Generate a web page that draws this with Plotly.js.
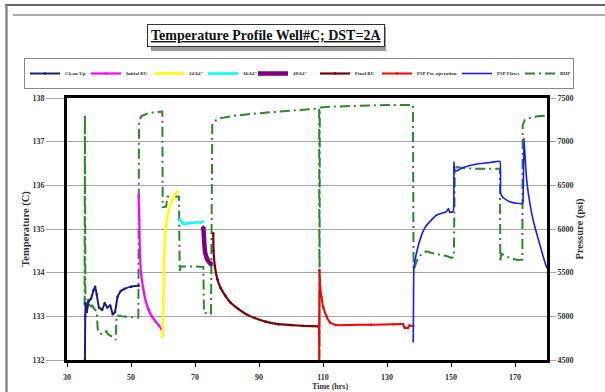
<!DOCTYPE html>
<html><head><meta charset="utf-8">
<script src="https://cdn.plot.ly/plotly-3.0.1.min.js"></script>
<style>html,body{margin:0;padding:0;background:#fff;}#chart{width:605px;height:392px;}</style>
</head><body><div id="chart"></div>
<script>
// ---- data (time in hrs, temperature in C, pressure in psi) ----
const cleanUpTime = [35.6,35.7,35.8,36.2,36.8,37.5,38.3,38.8,39.3,40.0,41.0,41.8,42.6,43.5,44.3,45.0,45.8,46.8,48.0,50.0,52.4];
const cleanUpTemp = [132.0,133.0,133.3,133.1,133.35,133.4,133.6,133.68,133.5,133.2,133.15,133.3,133.2,133.25,133.05,133.1,133.45,133.58,133.63,133.68,133.7];

const initialBUTime = [52.4,52.6,52.8,53.2,53.8,54.6,55.5,56.5,57.5,58.6,59.6];
const initialBUTemp = [135.78,135.2,134.4,133.95,133.65,133.35,133.15,133.0,132.9,132.8,132.7];

const choke24Time = [59.9,60.1,60.3,60.6,60.9,61.4,62.1,62.8,63.4,64.1,64.8];
const choke24Temp = [132.5,133.4,134.14,134.7,135.05,135.3,135.5,135.64,135.74,135.82,135.88];

const choke36Time = [65.0,65.5,66.3,68.0,70.0,72.0,72.8];
const choke36Temp = [135.25,135.2,135.12,135.13,135.15,135.15,135.18];

const choke48Time = [72.6,72.8,73.1,73.6,74.3,75.2];
const choke48Temp = [135.05,134.8,134.5,134.35,134.25,134.18];

const finalBUTime = [75.7,75.8,76.2,77.0,78.0,79.4,81.0,83.5,86.0,88.7,92.0,96.0,100.0,104.0,108.6];
const finalBUTemp = [134.9,134.5,134.15,133.85,133.65,133.48,133.32,133.17,133.05,132.96,132.88,132.82,132.8,132.78,132.77];

const pspPreTime = [108.7,108.8,108.9,109.1,109.5,110.1,111.1,112.2,114.0,118.0,125.0,132.0,135.0,135.5,136.5,137.0,138.2];
const pspPreTemp = [132.78,132.0,134.06,133.7,133.45,133.2,133.0,132.86,132.8,132.8,132.81,132.82,132.82,132.74,132.73,132.79,132.78];

const pspFlowTime = [138.2,138.3,138.4,139.3,140.8,142.0,143.4,145.5,148.6,149.2,149.6,150.7,150.9,151.2,151.7,153.0,154.9,157.0,159.0,162.0,165.3,165.5,166.3,167.4,169.0,170.5,172.3,172.5,172.8,173.2,173.6,174.3,175.1,176.2,177.2,178.3,179.3,180.0];
const pspFlowTemp = [132.4,133.5,134.1,134.48,134.86,135.05,135.17,135.32,135.4,135.47,135.38,135.4,136.54,136.35,136.33,136.38,136.43,136.47,136.5,136.52,136.55,135.82,135.72,135.66,135.61,135.59,135.58,135.62,137.08,136.6,136.16,135.75,135.4,135.05,134.79,134.5,134.25,134.1];

const bhpTime = [35.5,35.6,35.75,36.2,36.7,37.2,37.8,38.6,39.3,39.6,40.3,41.5,42.3,43.0,44.5,45.2,45.5,47.0,50.0,52.3,52.5,53.2,55.0,57.0,59.8,59.9,61.0,61.3,63.0,65.0,65.2,65.5,70.0,72.6,72.8,75.0,75.4,76.0,78.0,82.0,88.0,95.0,100.0,108.8,108.9,109.0,112.0,120.0,130.0,138.1,138.3,138.6,139.6,141.0,142.2,144.0,146.6,148.6,150.2,150.9,151.2,152.0,154.0,158.0,165.3,165.4,165.7,167.0,169.0,171.0,172.3,172.4,173.0,174.5,177.0,180.0];
const bhpPres = [5120,7305,5180,5120,5200,5090,5130,5080,5060,4850,4800,4795,4830,4790,4760,4730,5010,5000,4990,4985,7230,7290,7320,7335,7345,6250,6255,6370,6375,6370,5520,5570,5570,5565,5040,5030,7190,7235,7270,7295,7320,7340,7350,7380,4520,7390,7400,7410,7420,7420,5530,5560,5665,5720,5745,5725,5710,5690,5670,5680,6695,6710,6695,6690,6690,5620,5720,5690,5660,5645,5650,7190,7245,7270,7290,7300];

const xTicks = [30,50,70,90,110,130,150,170];
const tempTicks = [132,133,134,135,136,137,138];
const presTicks = [4500,5000,5500,6000,6500,7000,7500];

// ---- layout helpers (pixel -> paper) ----
const W = 605, H = 392, L = 67, R = 547, T = 98, B = 360;
const px = v => (v - L) / (R - L);
const py = v => (B - v) / (B - T);

const serif = 'Liberation Serif, Times New Roman, serif';
function tTrace(name, x, y, color, width, withMarkers, lw) {
  return {name, x, y, yaxis: 'y2', type: 'scatter', legendwidth: lw,
    mode: withMarkers ? 'lines+markers' : 'lines',
    line: {color, width, shape: 'spline', smoothing: 0.3},
    marker: {color, size: 2.5, symbol: 'circle', line: {width: 0}}};
}

const data = [
  tTrace('Clean-Up', cleanUpTime, cleanUpTemp, '#1c1c80', 2, true, 16),
  tTrace('Initial BU', initialBUTime, initialBUTemp, '#ff00ff', 2.2, true, 18),
  tTrace('24/64"', choke24Time, choke24Temp, '#ffff00', 2.6, false, 9),
  tTrace('36/64"', choke36Time, choke36Temp, '#00ffff', 2.6, false, 5),
  tTrace('48/64"', choke48Time, choke48Temp, '#800080', 4.5, true, 17),
  tTrace('Final BU', finalBUTime, finalBUTemp, '#7a0000', 2.2, true, 17),
  tTrace('PSP Pre-operation', pspPreTime, pspPreTemp, '#ff0000', 2, true, 35),
  tTrace('PSP Flows', pspFlowTime, pspFlowTemp, '#1a1aff', 1.6, false, 18),
  {name: 'BHP', x: bhpTime, y: bhpPres, yaxis: 'y', type: 'scatter', mode: 'lines', legendwidth: 8,
   line: {color: '#2a8a2a', width: 2, dash: '10px,4px,2px,4px'}}
];

const tickFont = {family: serif, size: 8, color: '#333', weight: 'bold'};
const layout = {
  width: W, height: H,
  margin: {l: L, r: W - R, t: T, b: H - B, pad: 0},
  paper_bgcolor: '#fff', plot_bgcolor: '#fff',
  showlegend: true,
  legend: {orientation: 'h', x: px(24), xanchor: 'left', y: py(58), yanchor: 'top',
    bordercolor: '#888', borderwidth: 1, bgcolor: '#fff', itemwidth: 30,
    font: {family: serif, size: 5, color: '#333', weight: 'bold'}, traceorder: 'normal'},
  xaxis: {range: [30, 180], tickvals: xTicks, ticktext: xTicks.map(String),
    showgrid: false, zeroline: false, showline: true, mirror: true, linecolor: '#000', linewidth: 3,
    ticks: 'outside', ticklen: 4, tickcolor: '#000', ticklabelstandoff: 3, tickfont: tickFont},
  yaxis: {range: [4500, 7500], side: 'right', tickvals: presTicks, ticktext: presTicks.map(String),
    showgrid: true, gridcolor: '#a8a8a8', gridwidth: 1, zeroline: false,
    showline: true, linecolor: '#000', linewidth: 3,
    ticks: 'outside', ticklen: 6, tickcolor: '#aaa', tickfont: tickFont,
    title: {text: 'Pressure (psi)', standoff: 2, font: {family: serif, size: 10.5, color: '#333', weight: 'bold'}}},
  yaxis2: {range: [132, 138], side: 'left', overlaying: 'y', anchor: 'x',
    tickvals: tempTicks, ticktext: tempTicks.map(String),
    showgrid: false, zeroline: false, showline: true, linecolor: '#000', linewidth: 3,
    ticks: 'outside', ticklen: 18, tickcolor: '#aaa', tickfont: tickFont,
    title: {text: 'Temperature (C)', standoff: 0, font: {family: serif, size: 10.5, color: '#333', weight: 'bold'}}},
  shapes: [
    {type: 'line', xref: 'paper', yref: 'paper', x0: px(5), x1: px(606), y0: py(5), y1: py(5), line: {color: '#333', width: 1.5}},
    {type: 'line', xref: 'paper', yref: 'paper', x0: px(6.5), x1: px(6.5), y0: py(5), y1: py(393), line: {color: '#888', width: 2.5}},
    {type: 'line', xref: 'paper', yref: 'paper', x0: px(13), x1: px(606), y0: py(15), y1: py(15), line: {color: '#aaa', width: 2}},
    {type: 'rect', xref: 'paper', yref: 'paper', x0: px(151), x1: px(386), y0: py(27), y1: py(51), fillcolor: '#999', line: {width: 0}}
  ],
  annotations: [
    {xref: 'paper', yref: 'paper', x: px(265.5), y: py(36), xanchor: 'center', yanchor: 'middle', showarrow: false,
     text: 'Temperature Profile Well#C; DST=2A', bgcolor: '#fff', bordercolor: '#333', borderwidth: 1, borderpad: 3,
     font: {family: serif, size: 14, color: '#111', weight: 'bold', lineposition: 'under'}},
    {xref: 'paper', yref: 'paper', x: px(330), y: py(393), xanchor: 'center', yanchor: 'bottom', showarrow: false,
     text: 'Time (hrs)', font: {family: serif, size: 8, color: '#333', weight: 'bold'}}
  ]
};

Plotly.newPlot('chart', data, layout, {staticPlot: true, displayModeBar: false});
</script></body></html>
